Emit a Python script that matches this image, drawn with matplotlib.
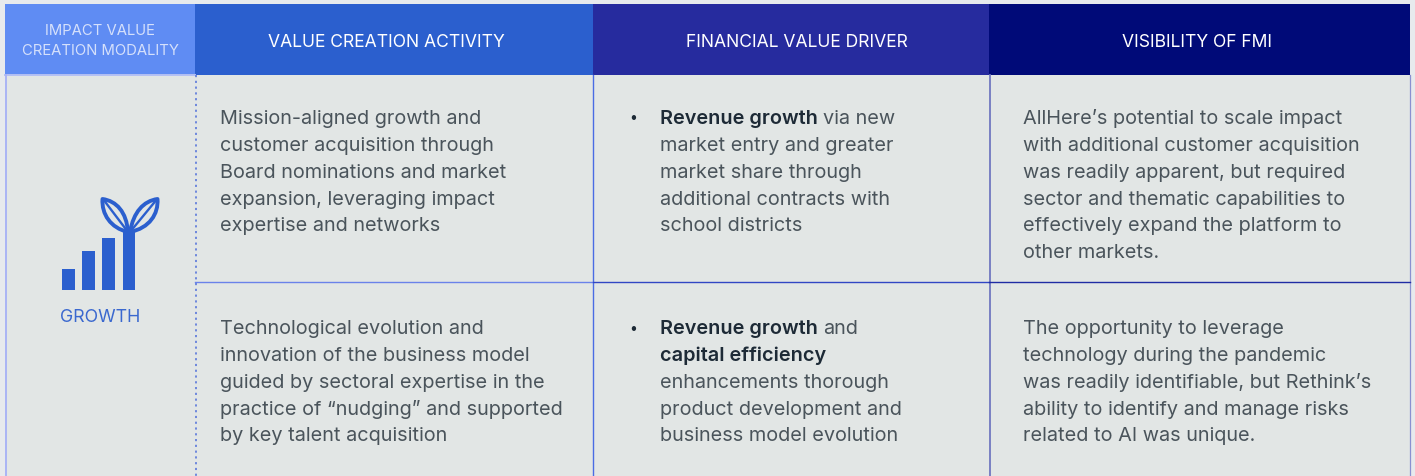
import matplotlib
matplotlib.use("Agg")
import matplotlib.pyplot as plt
from matplotlib.patches import Rectangle, PathPatch
from matplotlib.path import Path

W, H = 1415, 477
plt.rcParams['font.family'] = ['Inter', 'DejaVu Sans']

# table contents
headers = ["VALUE CREATION ACTIVITY", "FINANCIAL VALUE DRIVER", "VISIBILITY OF FMI"]
first_header = ["IMPACT VALUE", "CREATION MODALITY"]
modality = "GROWTH"
icon_bar_heights = [21, 39, 52]

activity_1 = ["Mission-aligned growth and", "customer acquisition through",
              "Board nominations and market", "expansion, leveraging impact",
              "expertise and networks"]
activity_2 = ["Technological evolution and", "innovation of the business model",
              "guided by sectoral expertise in the", "practice of “nudging” and supported",
              "by key talent acquisition"]
# each line is a list of (text, is_bold) runs
driver_1 = [[("Revenue growth", True), ("via new", False)],
            [("market entry and greater", False)],
            [("market share through", False)],
            [("additional contracts with", False)],
            [("school districts", False)]]
driver_2 = [[("Revenue growth", True), ("and", False)],
            [("capital efficiency", True)],
            [("enhancements thorough", False)],
            [("product development and", False)],
            [("business model evolution", False)]]
fmi_1 = ["AllHere’s potential to scale impact", "with additional customer acquisition",
         "was readily apparent, but required", "sector and thematic capabilities to",
         "effectively expand the platform to", "other markets."]
fmi_2 = ["The opportunity to leverage", "technology during the pandemic",
         "was readily identifiable, but Rethink’s", "ability to identify and manage risks",
         "related to AI was unique."]

# layout in pixels
col_x = [5, 195, 593, 989, 1410]
head_top, head_bot = 4, 75
row_line = 282
line_h = 26.7
base_1, base_2 = 123.5, 333.5
body_size = 14.3

BG = "#e2e6e5"
TXT = "#4a545b"
BOLD = "#1d2a36"
BLUE = "#2b5fce"
head_cols = ["#5f8cf3", "#2b5fce", "#262b9e", "#000a78"]

fig = plt.figure(figsize=(W / 100, H / 100), dpi=100, facecolor="#e7eaed")
ax = fig.add_axes([0, 0, 1, 1])
ax.set_xlim(0, W)
ax.set_ylim(H - 1, -1)
ax.axis("off")

ax.add_patch(Rectangle((col_x[0], head_bot), col_x[4] - col_x[0], H - head_bot, fc=BG, ec="none"))
for i in range(4):
    ax.add_patch(Rectangle((col_x[i], head_top), col_x[i + 1] - col_x[i], head_bot - head_top,
                           fc=head_cols[i], ec="none"))

# grid lines
ax.plot([col_x[0], col_x[1]], [75.5, 75.5], color="#b4c0f4", lw=1.4)
ax.plot([6, 6], [head_bot, H], color="#aab4f5", lw=1.4)
ax.plot([195.5, 195.5], [head_bot, H], color="#6480dc", lw=1.3, ls=(0, (1.2, 2)))
ax.plot([592.8, 592.8], [head_bot, H], color="#4a6ce4", lw=1)
ax.plot([990, 990], [head_bot, H], color="#7078c0", lw=1.3)
ax.plot([1410, 1410], [head_bot, H], color="#8a90d0", lw=0.9)
ax.plot([195, 593], [row_line, row_line], color="#6a82ea", lw=1)
ax.plot([593, 989], [row_line, row_line], color="#3146c4", lw=1)
ax.plot([989, 1410], [row_line, row_line], color="#1f2ca4", lw=1)

# headers
ax.text(100, 30.5, first_header[0], color="#d5e0fb", fontsize=10.7, ha="center", va="center")
ax.text(100, 50.5, first_header[1], color="#d5e0fb", fontsize=10.7, ha="center", va="center")
for i, label in enumerate(headers):
    cx = [386, 797, 1197][i]
    ax.text(cx, 42, label, color="white", fontsize=12.6, ha="center", va="center")


def draw_lines(x, base, lines):
    for n, line in enumerate(lines):
        ax.text(x, base + n * line_h, line, color=TXT, fontsize=body_size, va="baseline")


def draw_runs(x, base, lines):
    rend = fig.canvas.get_renderer()
    inv = ax.transData.inverted()
    for n, line in enumerate(lines):
        cur = x
        for txt, is_bold in line:
            t = ax.text(cur, base + n * line_h, txt, va="baseline", fontsize=body_size,
                        color=BOLD if is_bold else TXT, fontweight="semibold" if is_bold else "normal")
            ext = t.get_window_extent(rend)
            cur = inv.transform((ext.x1, ext.y0))[0] + 5


draw_lines(220, base_1, activity_1)
draw_lines(220, base_2, activity_2)
draw_runs(660, base_1, driver_1)
draw_runs(660, base_2, driver_2)
draw_lines(1023, base_1, fmi_1)
draw_lines(1023, base_2, fmi_2)

# bullets
ax.text(633, 117.5, "•", color=BOLD, fontsize=10, ha="center", va="center")
ax.text(633, 328, "•", color=BOLD, fontsize=10, ha="center", va="center")

# growth icon
for x0, h in zip([62, 82, 102], icon_bar_heights):
    ax.bar(x0 + 6.5, h, width=13, bottom=290 - h, color=BLUE)
ax.add_patch(Rectangle((123, 232), 12, 58, fc=BLUE, ec="none"))


def leaf(tip_x, base_x, s):
    verts = [(base_x, 232), (tip_x + s * 24, 212), (tip_x + s * 14, 201), (tip_x, 199),
             (tip_x - s * 1, 214), (tip_x + s * 8, 228), (base_x, 232)]
    codes = [Path.MOVETO, Path.CURVE4, Path.CURVE4, Path.CURVE4, Path.CURVE4, Path.CURVE4, Path.CURVE4]
    ax.add_patch(PathPatch(Path(verts, codes), fc="none", ec=BLUE, lw=2.8, joinstyle="round"))
    ax.plot([tip_x + s * 2, base_x], [201, 232], color=BLUE, lw=1.7, solid_capstyle="round")


leaf(102.5, 128, 1)
leaf(157.5, 130, -1)

ax.text(100, 317, modality, color="#3a68cf", fontsize=12.8, ha="center", va="center")

fig.savefig("out.png", dpi=100)
